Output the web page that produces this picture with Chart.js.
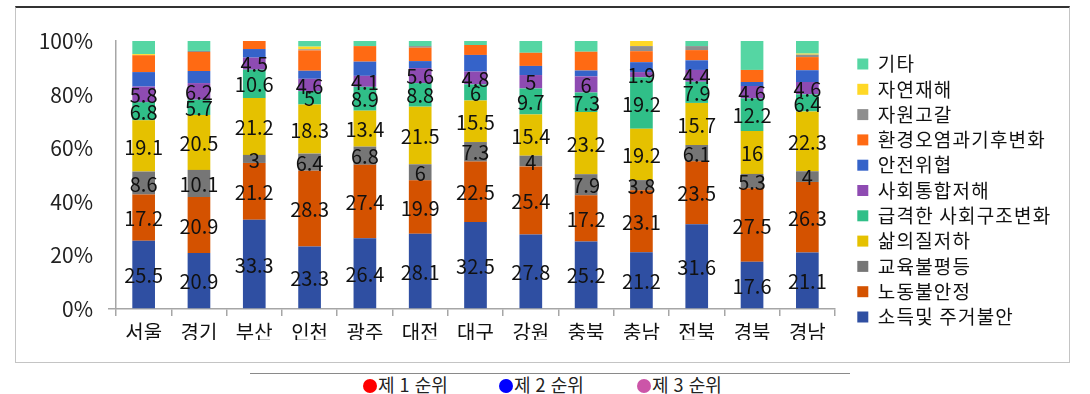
<!DOCTYPE html>
<html lang="ko">
<head>
<meta charset="utf-8">
<script src="https://cdn.jsdelivr.net/npm/chart.js@4"></script>
<style>
  html, body { margin: 0; padding: 0; background: #fff; }
  body { width: 1090px; height: 394px; position: relative; overflow: hidden;
         font-family: "Noto Sans CJK KR", "Noto Sans", sans-serif; }
  #frame { position: absolute; left: 15px; top: 6px; width: 1055px; height: 357px;
           border: 1px solid #c4c4c4; border-top: 2px solid #333; box-sizing: border-box; }
  #wrap { position: absolute; left: 16px; top: 7px; width: 1054px; height: 356px; }
  #rule { position: absolute; left: 250px; width: 600px; top: 373px; height: 0;
          border-top: 1px solid #8a8a8a; }
  #rank { position: absolute; top: 372px; left: 363px; height: 24px; font-size: 18px;
          line-height: 24px; color: #222; white-space: nowrap; }
  #rank span { position: absolute; top: 0; }
  #rank i { display: inline-block; width: 14px; height: 14px; border-radius: 50%;
            vertical-align: -1px; margin-right: 1px; }
</style>
</head>
<body>
<div id="frame"></div>
<div id="wrap"><canvas id="chart"></canvas></div>
<div id="rule"></div>
<div id="rank">
  <span style="left:0"><i style="background:#ff0000"></i>제 1 순위</span>
  <span style="left:136px"><i style="background:#0000ff"></i>제 2 순위</span>
  <span style="left:274px"><i style="background:#cc55a8"></i>제 3 순위</span>
</div>
<script>
// regions on the x axis
const regions = ["서울", "경기", "부산", "인천", "광주", "대전", "대구", "강원", "충북", "충남", "전북", "경북", "경남"];

// share (%) of each risk factor per region, bottom of the stack first
const income      = [25.5, 20.9, 33.3, 23.3, 26.4, 28.1, 32.5, 27.8, 25.2, 21.2, 31.6, 17.6, 21.1];
const labor       = [17.2, 20.9, 21.2, 28.3, 27.4, 19.9, 22.5, 25.4, 17.2, 23.1, 23.5, 27.5, 26.3];
const education   = [8.6, 10.1, 3, 6.4, 6.8, 6, 7.3, 4, 7.9, 3.8, 6.1, 5.3, 4];
const quality     = [19.1, 20.5, 21.2, 18.3, 13.4, 21.5, 15.5, 15.4, 23.2, 19.2, 15.7, 16, 22.3];
const rapidChange = [6.8, 5.7, 10.6, 5, 8.9, 8.8, 6, 9.7, 7.3, 19.2, 7.9, 12.2, 6.4];
const cohesion    = [5.8, 6.2, 4.5, 4.6, 4.1, 5.6, 4.8, 5, 6, 1.9, 4.4, 4.6, 4.6];
const safety      = [5.4, 4.5, 3.2, 3.0, 5.3, 2.6, 6.2, 3.4, 2.2, 3.7, 3.6, 1.5, 4.4];
const environment = [6.3, 7.1, 3.0, 7.6, 5.8, 5.0, 3.7, 4.9, 7.0, 4.1, 3.8, 4.5, 4.9];
const resource    = [0, 0.4, 0, 0.4, 0, 0.6, 0, 0, 0, 1.9, 1.5, 0, 0.9];
const disaster    = [0.4, 0, 0, 1.0, 0, 0, 0, 0, 0, 1.9, 0, 0, 0.4];
const other       = [4.9, 3.7, 0, 2.1, 1.9, 1.9, 1.5, 4.4, 4.0, 0, 1.9, 10.8, 4.7];

const yTicks = [0, 20, 40, 60, 80, 100];

const FONT = '"Noto Sans CJK KR", "Noto Sans", sans-serif';
const AXIS = "#a6a6a6";
const LEGEND_WIDTH = 212;

const series = [
  { label: "소득및 주거불안", data: income, color: "#2f4fa2", labelled: true },
  { label: "노동불안정", data: labor, color: "#d45200", labelled: true },
  { label: "교육불평등", data: education, color: "#767676", labelled: true },
  { label: "삶의질저하", data: quality, color: "#e5c100", labelled: true },
  { label: "급격한 사회구조변화", data: rapidChange, color: "#30bf88", labelled: true },
  { label: "사회통합저해", data: cohesion, color: "#8e4bb2", labelled: true },
  { label: "안전위협", data: safety, color: "#3563c9", labelled: false },
  { label: "환경오염과기후변화", data: environment, color: "#ff6a13", labelled: false },
  { label: "자원고갈", data: resource, color: "#8f8f8f", labelled: false },
  { label: "자연재해", data: disaster, color: "#ffd826", labelled: false },
  { label: "기타", data: other, color: "#55d6a3", labelled: false },
];

// value text in the middle of each labelled segment
const segmentLabels = {
  id: "segmentLabels",
  afterDatasetsDraw(chart) {
    const ctx = chart.ctx;
    ctx.save();
    ctx.font = "20px " + FONT;
    ctx.fillStyle = "#111";
    ctx.textAlign = "center";
    ctx.textBaseline = "middle";
    chart.data.datasets.forEach((ds, i) => {
      if (!ds.labelled) return;
      chart.getDatasetMeta(i).data.forEach((bar, j) => {
        const v = ds.data[j];
        if (!v) return;
        ctx.fillText(String(v), bar.x, (bar.y + bar.base) / 2 + 1);
      });
    });
    ctx.restore();
  },
};

// fixed legend width and a bit of letter spacing on its labels
const legendTweaks = {
  id: "legendTweaks",
  afterInit(chart) {
    const lg = chart.legend;
    if (!lg) return;
    const fit = lg.fit;
    lg.fit = function () {
      fit.call(this);
      this.width = LEGEND_WIDTH;
    };
    const draw = lg.draw;
    lg.draw = function () {
      this.ctx.save();
      this.ctx.letterSpacing = "1.2px";
      draw.call(this);
      this.ctx.restore();
    };
  },
};

const ctx = document.getElementById("chart").getContext("2d");
const chart = new Chart(ctx, {
  type: "bar",
  data: {
    labels: regions,
    datasets: series.map((s) => ({
      label: s.label,
      data: s.data,
      labelled: s.labelled,
      backgroundColor: s.color,
      borderWidth: 0,
      barPercentage: 0.41,
      categoryPercentage: 1,
    })),
  },
  options: {
    responsive: true,
    maintainAspectRatio: false,
    animation: false,
    layout: { padding: { top: 34, bottom: 23, left: 0, right: 7 } },
    plugins: {
      tooltip: { enabled: false },
      legend: {
        position: "right",
        align: "center",
        reverse: true,
        labels: {
          boxWidth: 11,
          boxHeight: 11,
          padding: 6.3,
          color: "#111",
          font: { family: FONT, size: 19 },
        },
      },
    },
    scales: {
      x: {
        stacked: true,
        afterFit: (s) => { s.height = 31; },
        border: { display: true, color: AXIS, width: 1.5 },
        grid: { display: true, drawOnChartArea: false, drawTicks: true, tickLength: 7, color: AXIS, lineWidth: 1.5 },
        ticks: { color: "#111", padding: 4, font: { family: FONT, size: 20 } },
      },
      y: {
        stacked: true,
        min: 0,
        max: 100,
        afterFit: (s) => { s.width = 100; },
        afterBuildTicks: (s) => { s.ticks = yTicks.map((v) => ({ value: v })); },
        border: { display: true, color: AXIS, width: 1.5 },
        grid: {
          drawOnChartArea: false,
          tickLength: 8,
          lineWidth: 1.5,
          color: (c) => (c.tick && c.tick.value === 0 ? AXIS : "rgba(0,0,0,0)"),
        },
        ticks: {
          color: "#222",
          padding: 15,
          font: { family: FONT, size: 21 },
          callback: (v) => v + "%",
        },
      },
      // empty axis: keeps a gap between the plot and the legend
      gap: {
        type: "linear",
        position: "right",
        display: true,
        afterFit: (s) => { s.width = 16; },
        border: { display: false },
        grid: { display: false },
        ticks: { display: false },
      },
    },
  },
  plugins: [segmentLabels, legendTweaks],
});
</script>
</body>
</html>
